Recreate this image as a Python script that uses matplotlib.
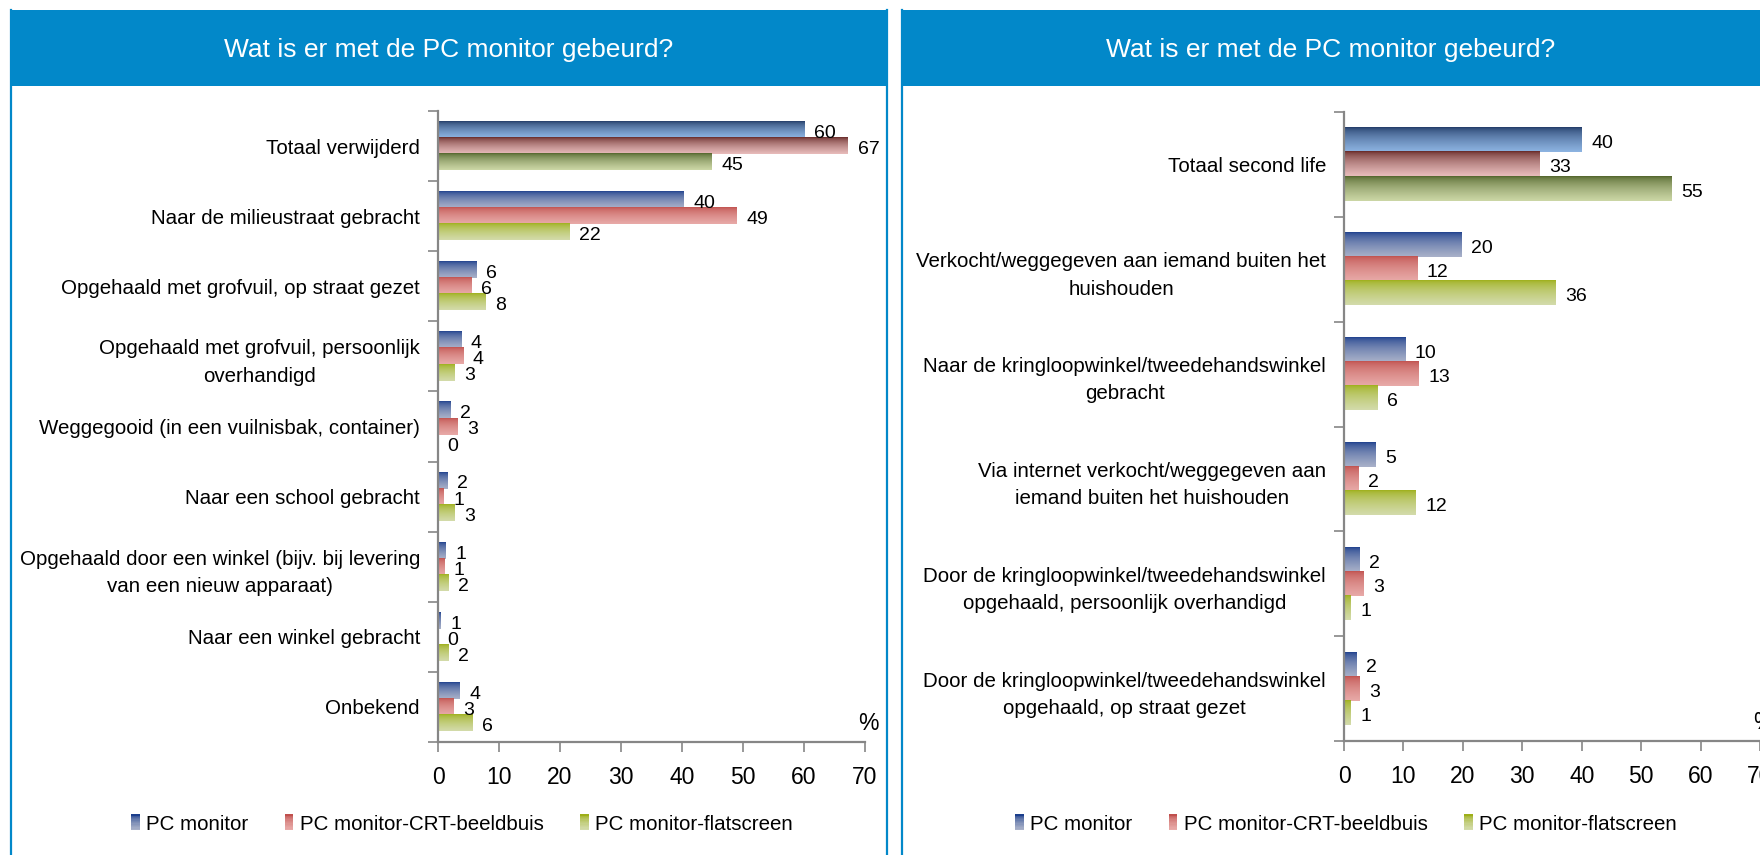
import numpy as np
import matplotlib
matplotlib.use('Agg')
import matplotlib.pyplot as plt
from matplotlib import font_manager
from matplotlib.patches import Rectangle
from matplotlib.lines import Line2D
from matplotlib.colors import to_rgb
from matplotlib.legend_handler import HandlerBase

# --- data ---
title = 'Wat is er met de PC monitor gebeurd?'
series = ['PC monitor', 'PC monitor-CRT-beeldbuis', 'PC monitor-flatscreen']

left_cats = ['Totaal verwijderd',
             'Naar de milieustraat gebracht',
             'Opgehaald met grofvuil, op straat gezet',
             'Opgehaald met grofvuil, persoonlijk\noverhandigd',
             'Weggegooid (in een vuilnisbak, container)',
             'Naar een school gebracht',
             'Opgehaald door een winkel (bijv. bij levering\nvan een nieuw apparaat)',
             'Naar een winkel gebracht',
             'Onbekend']
left_monitor = [60, 40.3, 6.3, 3.8, 2.0, 1.5, 1.2, 0.4, 3.5]
left_crt = [67.2, 49, 5.5, 4.1, 3.2, 0.9, 1.0, 0.0, 2.5]
left_flat = [44.9, 21.5, 7.8, 2.7, 0.0, 2.7, 1.7, 1.7, 5.6]
left_lbl_monitor = [60, 40, 6, 4, 2, 2, 1, 1, 4]
left_lbl_crt = [67, 49, 6, 4, 3, 1, 1, 0, 3]
left_lbl_flat = [45, 22, 8, 3, 0, 3, 2, 2, 6]

right_cats = ['Totaal second life',
              'Verkocht/weggegeven aan iemand buiten het\nhuishouden',
              'Naar de kringloopwinkel/tweedehandswinkel\ngebracht',
              'Via internet verkocht/weggegeven aan\niemand buiten het huishouden',
              'Door de kringloopwinkel/tweedehandswinkel\nopgehaald, persoonlijk overhandigd',
              'Door de kringloopwinkel/tweedehandswinkel\nopgehaald, op straat gezet']
right_monitor = [40, 19.7, 10.3, 5.3, 2.6, 2.1]
right_crt = [32.9, 12.3, 12.5, 2.4, 3.3, 2.6]
right_flat = [55.1, 35.6, 5.6, 12.0, 1.1, 1.1]
right_lbl_monitor = [40, 20, 10, 5, 2, 2]
right_lbl_crt = [33, 12, 13, 2, 3, 3]
right_lbl_flat = [55, 36, 6, 12, 1, 1]

xticks = [0, 10, 20, 30, 40, 50, 60, 70]

# gradient colours (top -> bottom); first row "Totaal" uses the dark set
grad_normal = [('#1B3E8C', '#A9B1C9'), ('#C0504D', '#E8AAA8'), ('#9DAF18', '#D3DBAB')]
grad_total = [('#1F3864', '#8DB4E2'), ('#632523', '#E8BCBB'), ('#4F6228', '#CCD7A6')]
header_blue = '#0288C9'
axis_gray = '#868686'

names = {f.name for f in font_manager.fontManager.ttflist}
if 'Liberation Sans Narrow' in names:
    plt.rcParams['font.family'] = ['Liberation Sans Narrow', 'DejaVu Sans']
    fs, fs_tick, fs_small, fs_title = 18, 19, 16.5, 21
else:
    plt.rcParams['font.family'] = ['Liberation Sans', 'DejaVu Sans']
    fs, fs_tick, fs_small, fs_title = 14.8, 16.5, 14, 19


def mix(c1, c2, t):
    a, b = np.array(to_rgb(c1)), np.array(to_rgb(c2))
    return a * (1 - t) + b * t


class GradHandler(HandlerBase):
    def create_artists(self, legend, orig, xd, yd, w, h, fontsize, trans):
        arts = []
        n = 12
        for k in range(n):
            c = mix(orig.top, orig.bottom, (k / (n - 1)) ** 0.6)
            arts.append(Rectangle((-xd, -yd + h - (k + 1) * h / n), w, h / n + 0.2,
                                  facecolor=c, edgecolor='none', transform=trans))
        return arts


def panel(ax, cats, vals, lbls):
    n = len(cats)
    centers = n - 1 - np.arange(n)
    h = 0.23
    offs = [h, 0, -h]
    for s in range(3):
        bars = ax.barh(centers + offs[s], vals[s], height=h, color='none', edgecolor='none')
        for i, b in enumerate(bars):
            top, bot = (grad_total if i == 0 else grad_normal)[s]
            w = b.get_width()
            if w > 0:
                t = np.linspace(0, 1, 64) ** 0.6
                col = np.array([mix(top, bot, tt) for tt in t])
                ax.imshow(col[:, None, :], extent=[b.get_x(), b.get_x() + w, b.get_y(), b.get_y() + b.get_height()],
                          origin='upper', aspect='auto', interpolation='bilinear', zorder=2)
            ax.annotate(str(lbls[s][i]), (w, b.get_y() + b.get_height() / 2), xytext=(7, -2.5),
                        textcoords='offset points', ha='left', va='center', fontsize=fs_small, zorder=3)
    ax.set_xlim(0, 70)
    ax.set_ylim(-0.5, n - 0.5)
    ax.set_xticks(xticks)
    ax.set_yticks(centers)
    ax.set_yticklabels(cats, fontsize=fs, linespacing=1.55)
    for t in ax.get_yticklabels():
        t.set_multialignment('center')
    ax.set_yticks(np.arange(n + 1) - 0.5, minor=True)
    ax.tick_params(axis='y', which='major', length=0, pad=13)
    ax.tick_params(axis='y', which='minor', length=7, width=1.2, color=axis_gray)
    ax.tick_params(axis='x', length=7, width=1.2, color=axis_gray, labelsize=fs_tick, pad=10)
    for sp in ['top', 'right']:
        ax.spines[sp].set_visible(False)
    for sp in ['left', 'bottom']:
        ax.spines[sp].set_color(axis_gray)
        ax.spines[sp].set_linewidth(1.6)
    ax.text(1.008, 0.03, '%', transform=ax.transAxes, ha='center', va='center', fontsize=fs_tick)


fig = plt.figure(figsize=(17.6, 8.55), dpi=100)

# panel headers and borders
W, H = 1760, 855
for x0, x1 in [(10, 888), (901, 1760)]:
    fig.patches.append(Rectangle((x0 / W, 1 - 86 / H), (x1 - x0) / W, 76 / H, transform=fig.transFigure,
                                 facecolor=header_blue, edgecolor='none', zorder=0))
    fig.text((x0 + x1) / 2 / W, 1 - 50 / H, title, color='white', ha='center', va='center', fontsize=fs_title)
for x in [11, 887, 902]:
    fig.add_artist(Line2D([x / W, x / W], [0, 1 - 10 / H], transform=fig.transFigure, color=header_blue, lw=1.6))

ax1 = fig.add_axes([438 / W, 1 - 742 / H, 427 / W, 631 / H])
panel(ax1, left_cats, [left_monitor, left_crt, left_flat], [left_lbl_monitor, left_lbl_crt, left_lbl_flat])

ax2 = fig.add_axes([1344 / W, 1 - 741 / H, 416 / W, 629 / H])
panel(ax2, right_cats, [right_monitor, right_crt, right_flat], [right_lbl_monitor, right_lbl_crt, right_lbl_flat])

# legends with gradient squares
for cx in [462, 1346]:
    handles = []
    for s in range(3):
        r = Rectangle((0, 0), 1, 1)
        r.top, r.bottom = grad_normal[s]
        handles.append(r)
    fig.legend(handles, series, loc='center', bbox_to_anchor=(cx / W, 1 - 824 / H), ncol=3, frameon=False,
               fontsize=fs, handlelength=0.4, handleheight=0.8, handletextpad=0.3, columnspacing=1.8,
               handler_map={hd: GradHandler() for hd in handles})

fig.savefig('out.png', dpi=100)
